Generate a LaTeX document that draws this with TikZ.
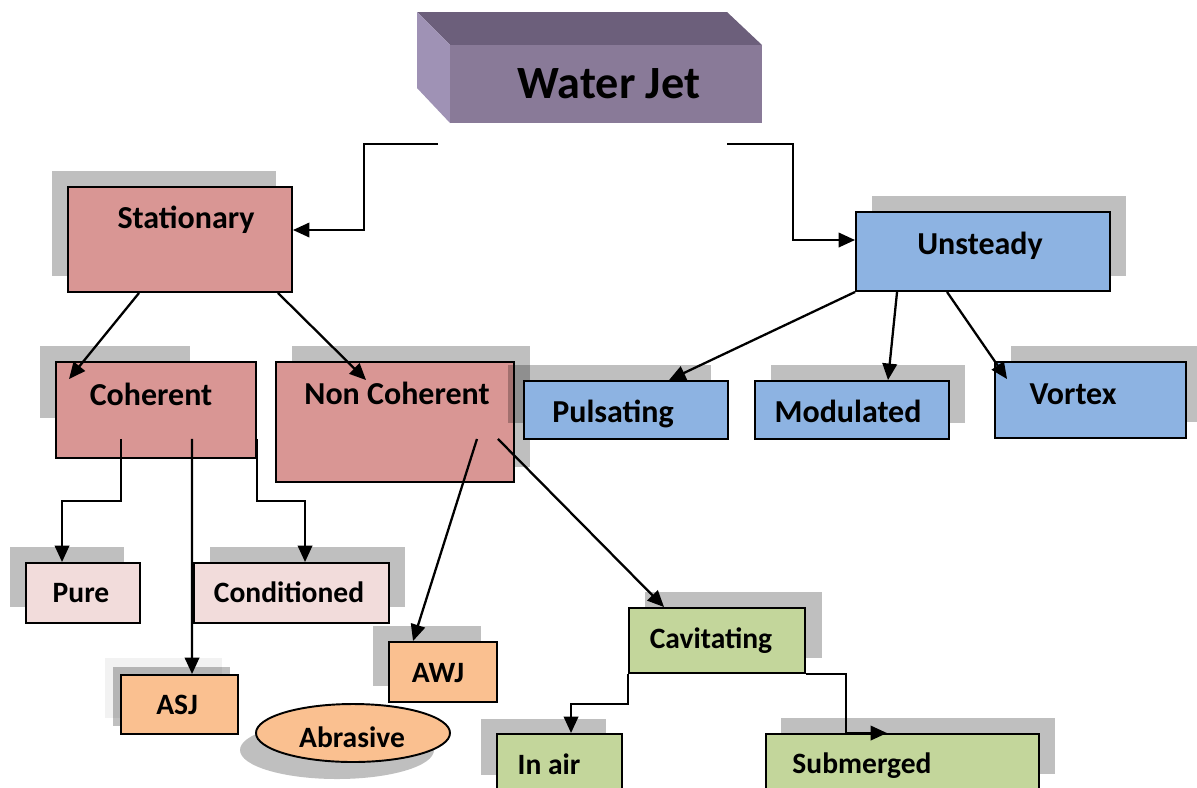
\documentclass[tikz,border=0pt]{standalone}
\usepackage{fontspec}
\setmainfont{Carlito}
\usetikzlibrary{arrows.meta}

\definecolor{rosebox}{HTML}{D99694}
\definecolor{palerose}{HTML}{F2DCDB}
\definecolor{peach}{HTML}{FAC090}
\definecolor{skyblue}{HTML}{8DB3E2}
\definecolor{olivegreen}{HTML}{C3D69B}
\definecolor{wjtop}{HTML}{6C5F7B}
\definecolor{wjside}{HTML}{9F92B5}
\definecolor{wjfront}{HTML}{897A98}

\tikzset{
  box/.style={draw=black, line width=1.1pt, inner sep=0pt},
  greyback/.style={fill=black, opacity=0.25},
  lab/.style={font=\bfseries\fontsize{18.2}{21}\selectfont, anchor=base, inner sep=0pt},
  sublab/.style={lab, font=\bfseries\fontsize{16.8}{19}\selectfont},
  arr/.style={-{Triangle[length=3.3mm,width=2.9mm]}, line width=1.3pt}
}

\begin{document}
\begin{tikzpicture}[x=0.2mm, y=-0.2mm]
\useasboundingbox (0,0) rectangle (1197,787);
\clip (0,0) rectangle (1197,787);

% water jet block
\fill[wjtop] (417,12) -- (727,12) -- (762,45) -- (450,45) -- cycle;
\fill[wjside] (417,12) -- (450,45) -- (450,123) -- (417,88) -- cycle;
\fill[wjfront] (450,45) rectangle (762,123);
\node[lab, font=\bfseries\fontsize{26.3}{29}\selectfont] (wj) at (609,98) {Water Jet};

% stationary side
\fill[greyback] (52,171) rectangle (276,276);
\node[box, fill=rosebox, minimum width=44.8mm, minimum height=21mm] (stat) at (180,239.5) {};
\node[lab] (statT) at (186,228) {Stationary};

\fill[greyback] (40,346) rectangle (190,418);
\node[box, fill=rosebox, minimum width=40mm, minimum height=19.2mm] (coh) at (156,410) {};
\node[lab] (cohT) at (151,405) {Coherent};

\fill[greyback] (292,346) rectangle (530,467);
\node[box, fill=rosebox, minimum width=47.6mm, minimum height=24mm] (noncoh) at (395,422) {};
\node[lab] (noncohT) at (397,404) {Non Coherent};

\fill[greyback] (10,547) rectangle (124,607);
\node[box, fill=palerose, minimum width=22.8mm, minimum height=12mm] (pure) at (83,593) {};
\node[sublab] (pureT) at (81,602) {Pure};

\fill[greyback] (210,547) rectangle (405,607);
\node[box, fill=palerose, minimum width=39mm, minimum height=12mm] (cond) at (291.5,593) {};
\node[sublab] (condT) at (289,602) {Conditioned};

\fill[black!5] (105,658) rectangle (222,718);
\fill[greyback] (113,667) rectangle (230,726);
\node[box, fill=peach, minimum width=23.4mm, minimum height=11.8mm] (asj) at (179.5,704.5) {};
\node[sublab] (asjT) at (177,714) {ASJ};

\fill[greyback] (373,626) rectangle (481,686);
\node[box, fill=peach, minimum width=21.6mm, minimum height=12mm] (awj) at (443,672) {};
\node[sublab] (awjT) at (438,682) {AWJ};

\fill[greyback] (337,750) ellipse (97 and 29);
\draw[line width=1.1pt, fill=peach] (353,733) ellipse (97 and 29);
\node[sublab] (abrasT) at (352,747) {Abrasive};

% unsteady side
\fill[greyback] (872,196) rectangle (1126,276);
\node[box, fill=skyblue, minimum width=50.8mm, minimum height=15.8mm] (unst) at (983,251.5) {};
\node[lab] (unstT) at (980,254) {Unsteady};

\fill[greyback] (508,365) rectangle (711,423);
\node[box, fill=skyblue, minimum width=40.8mm, minimum height=11.6mm] (puls) at (626,410) {};
\node[lab] (pulsT) at (613,422) {Pulsating};

\fill[greyback] (771,365) rectangle (965,423);
\node[box, fill=skyblue, minimum width=38.8mm, minimum height=11.6mm] (modu) at (852,410) {};
\node[lab] (moduT) at (848,422) {Modulated};

\fill[greyback] (1011,346) rectangle (1202,422);
\node[box, fill=skyblue, minimum width=38.2mm, minimum height=15.2mm] (vort) at (1090.5,400) {};
\node[lab] (vortT) at (1073,404) {Vortex};

% cavitating
\fill[greyback] (645,592) rectangle (822,658);
\node[box, fill=olivegreen, minimum width=35.2mm, minimum height=13mm] (cavit) at (717,640.5) {};
\node[sublab] (cavitT) at (711,648) {Cavitating};

\fill[greyback] (481,719) rectangle (606,775);
\node[box, fill=olivegreen, minimum width=25mm, minimum height=13.2mm] (inair) at (559.5,767) {};
\node[sublab] (inairT) at (549,774) {In air};

\fill[greyback] (781,718) rectangle (1055,774);
\node[box, fill=olivegreen, minimum width=54.6mm, minimum height=13.2mm] (subm) at (902.5,767) {};
\node[sublab] (submT) at (862,773) {Submerged};

% connectors
\coordinate (wjl) at (438,144);
\coordinate (wjr) at (727,144);
\coordinate (sbend) at (364,230);
\coordinate (ubend) at (793,240);
\draw[arr] (wjl) -| (sbend) -- (sbend -| stat.east);
\draw[arr] (wjr) -| (ubend) -- (ubend -| unst.west);

\draw[arr] ([shift={(72,0)}]stat.south west) -- ([shift={(14,18)}]coh.north west);
\draw[arr] ([shift={(-15,0)}]stat.south east) -- ([shift={(91,19)}]noncoh.north west);

\draw[arr] ([shift={(66,-20)}]coh.south west) -- ++(0,62) -| ([shift={(37,0)}]pure.north west);
\draw[arr] ([shift={(0,-20)}]coh.south east) -- ++(0,62) -| ([shift={(112,0)}]cond.north west);
\draw[arr] ([shift={(137,-20)}]coh.south west) -- ([shift={(72,0)}]asj.north west);

\draw[arr] ([shift={(-38,-44)}]noncoh.south east) -- ([shift={(25,0)}]awj.north west);
\draw[arr] ([shift={(-17,-44)}]noncoh.south east) -- ([shift={(36,0)}]cavit.north west);

\draw[arr] (unst.south west) -- ([shift={(146,0)}]puls.north west);
\draw[arr] ([shift={(42,0)}]unst.south west) -- ([shift={(134,0)}]modu.north west);
\draw[arr] ([shift={(92,0)}]unst.south west) -- ([shift={(13,18)}]vort.north west);

\draw[arr] (cavit.south west) -- ++(0,30) -| ([shift={(75,0)}]inair.north west);
\draw[arr] (cavit.south east) -| ([shift={(81,0)}]subm.north west) -- ([shift={(122,0)}]subm.north west);
\end{tikzpicture}
\end{document}
